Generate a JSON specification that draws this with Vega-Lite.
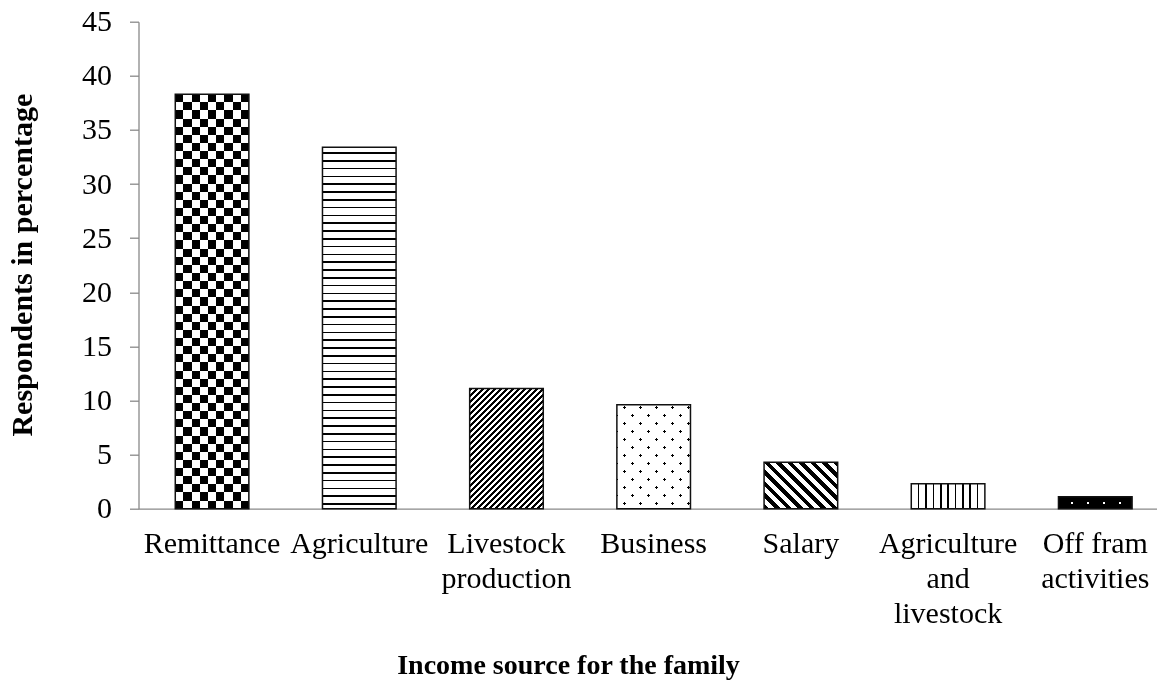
{
  "$schema": "https://vega.github.io/schema/vega-lite/v6.json",
  "autosize": "none",
  "width": 1018.5,
  "height": 487,
  "padding": {"left": 138.5, "top": 21.7, "right": 0, "bottom": 178.3},
  "background": "white",
  "config": {"view": {"stroke": null}},
  "data": {"values": [
    {"cat": "Remittance", "value": 38.3},
    {"cat": "Agriculture", "value": 33.4},
    {"cat": "Livestock production", "value": 11.1},
    {"cat": "Business", "value": 9.6},
    {"cat": "Salary", "value": 4.3},
    {"cat": "Agriculture and livestock", "value": 2.3},
    {"cat": "Off fram activities", "value": 1.1}
  ]},
  "encoding": {
    "x": {"field": "cat", "type": "nominal", "sort": null,
      "scale": {"domain": ["Remittance","Agriculture","Livestock production","Business","Salary","Agriculture and livestock","Off fram activities"], "paddingInner": 0.5, "paddingOuter": 0.2096, "align": 0.596},
      "axis": {"title": "Income source for the family", "titleFont": "Liberation Serif", "titleFontSize": 28, "titleFontWeight": "bold", "titleColor": "#000",
        "titleX": 429.5, "titleY": 156.5, "titleAlign": "center", "titleBaseline": "middle",
        "labelFont": "Liberation Serif", "labelFontSize": 30, "labelColor": "#000", "labelAngle": 0, "labelLimit": 0, "labelPadding": 20, "labelLineHeight": 35, "labelBaseline": "top",
        "ticks": false, "domainColor": "#898989", "domainWidth": 1.3,
        "labelExpr": "datum.label == 'Livestock production' ? ['Livestock','production'] : datum.label == 'Agriculture and livestock' ? ['Agriculture','and','livestock'] : datum.label == 'Off fram activities' ? ['Off fram','activities'] : datum.label"}},
    "y": {"field": "value", "type": "quantitative",
      "scale": {"domain": [0, 45], "nice": false, "zero": true},
      "axis": {"values": [0,5,10,15,20,25,30,35,40,45], "grid": false, "title": "Respondents in percentage",
        "titleFont": "Liberation Serif", "titleFontSize": 30, "titleFontWeight": "bold", "titleColor": "#000",
        "titleX": -116, "titleY": 243, "titleAngle": -90, "titleAlign": "center", "titleBaseline": "middle",
        "labelFont": "Liberation Serif", "labelFontSize": 30, "labelColor": "#000", "labelPadding": 18,
        "tickSize": 9, "tickColor": "#898989", "domainColor": "#898989", "domainWidth": 1.3, "tickWidth": 1.3}}
  },
  "layer": [
    {"transform": [{"filter": "datum.cat === 'Remittance'"}],
     "mark": {"type": "bar", "fill": {"gradient": "linear", "x1": 0, "y1": 0, "x2": 1, "y2": 0, "stops": [
       {"offset":0,"color":"#000"},{"offset":0.1111,"color":"#000"},{"offset":0.1111,"color":"#fff"},{"offset":0.2222,"color":"#fff"},{"offset":0.2222,"color":"#000"},{"offset":0.3333,"color":"#000"},{"offset":0.3333,"color":"#fff"},{"offset":0.4444,"color":"#fff"},{"offset":0.4444,"color":"#000"},{"offset":0.5556,"color":"#000"},{"offset":0.5556,"color":"#fff"},{"offset":0.6667,"color":"#fff"},{"offset":0.6667,"color":"#000"},{"offset":0.7778,"color":"#000"},{"offset":0.7778,"color":"#fff"},{"offset":0.8889,"color":"#fff"},{"offset":0.8889,"color":"#000"},{"offset":1,"color":"#000"}]}}},
    {"transform": [{"filter": "datum.cat === 'Remittance'"}],
     "mark": {"type": "bar", "blend": "difference", "fill": {"gradient": "linear", "x1": 0, "y1": 0, "x2": 0, "y2": 1, "stops": [
       {"offset":0,"color":"#000"},{"offset":0.0196,"color":"#000"},{"offset":0.0196,"color":"#fff"},{"offset":0.0392,"color":"#fff"},{"offset":0.0392,"color":"#000"},{"offset":0.0588,"color":"#000"},{"offset":0.0588,"color":"#fff"},{"offset":0.0784,"color":"#fff"},{"offset":0.0784,"color":"#000"},{"offset":0.0980,"color":"#000"},{"offset":0.0980,"color":"#fff"},{"offset":0.1176,"color":"#fff"},{"offset":0.1176,"color":"#000"},{"offset":0.1373,"color":"#000"},{"offset":0.1373,"color":"#fff"},{"offset":0.1569,"color":"#fff"},{"offset":0.1569,"color":"#000"},{"offset":0.1765,"color":"#000"},{"offset":0.1765,"color":"#fff"},{"offset":0.1961,"color":"#fff"},{"offset":0.1961,"color":"#000"},{"offset":0.2157,"color":"#000"},{"offset":0.2157,"color":"#fff"},{"offset":0.2353,"color":"#fff"},{"offset":0.2353,"color":"#000"},{"offset":0.2549,"color":"#000"},{"offset":0.2549,"color":"#fff"},{"offset":0.2745,"color":"#fff"},{"offset":0.2745,"color":"#000"},{"offset":0.2941,"color":"#000"},{"offset":0.2941,"color":"#fff"},{"offset":0.3137,"color":"#fff"},{"offset":0.3137,"color":"#000"},{"offset":0.3333,"color":"#000"},{"offset":0.3333,"color":"#fff"},{"offset":0.3529,"color":"#fff"},{"offset":0.3529,"color":"#000"},{"offset":0.3725,"color":"#000"},{"offset":0.3725,"color":"#fff"},{"offset":0.3922,"color":"#fff"},{"offset":0.3922,"color":"#000"},{"offset":0.4118,"color":"#000"},{"offset":0.4118,"color":"#fff"},{"offset":0.4314,"color":"#fff"},{"offset":0.4314,"color":"#000"},{"offset":0.4510,"color":"#000"},{"offset":0.4510,"color":"#fff"},{"offset":0.4706,"color":"#fff"},{"offset":0.4706,"color":"#000"},{"offset":0.4902,"color":"#000"},{"offset":0.4902,"color":"#fff"},{"offset":0.5098,"color":"#fff"},{"offset":0.5098,"color":"#000"},{"offset":0.5294,"color":"#000"},{"offset":0.5294,"color":"#fff"},{"offset":0.5490,"color":"#fff"},{"offset":0.5490,"color":"#000"},{"offset":0.5686,"color":"#000"},{"offset":0.5686,"color":"#fff"},{"offset":0.5882,"color":"#fff"},{"offset":0.5882,"color":"#000"},{"offset":0.6078,"color":"#000"},{"offset":0.6078,"color":"#fff"},{"offset":0.6275,"color":"#fff"},{"offset":0.6275,"color":"#000"},{"offset":0.6471,"color":"#000"},{"offset":0.6471,"color":"#fff"},{"offset":0.6667,"color":"#fff"},{"offset":0.6667,"color":"#000"},{"offset":0.6863,"color":"#000"},{"offset":0.6863,"color":"#fff"},{"offset":0.7059,"color":"#fff"},{"offset":0.7059,"color":"#000"},{"offset":0.7255,"color":"#000"},{"offset":0.7255,"color":"#fff"},{"offset":0.7451,"color":"#fff"},{"offset":0.7451,"color":"#000"},{"offset":0.7647,"color":"#000"},{"offset":0.7647,"color":"#fff"},{"offset":0.7843,"color":"#fff"},{"offset":0.7843,"color":"#000"},{"offset":0.8039,"color":"#000"},{"offset":0.8039,"color":"#fff"},{"offset":0.8235,"color":"#fff"},{"offset":0.8235,"color":"#000"},{"offset":0.8431,"color":"#000"},{"offset":0.8431,"color":"#fff"},{"offset":0.8627,"color":"#fff"},{"offset":0.8627,"color":"#000"},{"offset":0.8824,"color":"#000"},{"offset":0.8824,"color":"#fff"},{"offset":0.9020,"color":"#fff"},{"offset":0.9020,"color":"#000"},{"offset":0.9216,"color":"#000"},{"offset":0.9216,"color":"#fff"},{"offset":0.9412,"color":"#fff"},{"offset":0.9412,"color":"#000"},{"offset":0.9608,"color":"#000"},{"offset":0.9608,"color":"#fff"},{"offset":0.9804,"color":"#fff"},{"offset":0.9804,"color":"#000"},{"offset":1,"color":"#000"}]}}},
    {"transform": [{"filter": "datum.cat === 'Agriculture'"}],
     "mark": {"type": "bar", "fill": {"gradient": "linear", "x1": 0, "y1": 0, "x2": 0, "y2": 1, "stops": [
       {"offset":0,"color":"#fff"},
       {"offset":0.0138,"color":"#fff"},{"offset":0.0138,"color":"#000"},{"offset":0.0182,"color":"#000"},{"offset":0.0182,"color":"#fff"},
       {"offset":0.0354,"color":"#fff"},{"offset":0.0354,"color":"#000"},{"offset":0.0398,"color":"#000"},{"offset":0.0398,"color":"#fff"},
       {"offset":0.0570,"color":"#fff"},{"offset":0.0570,"color":"#000"},{"offset":0.0614,"color":"#000"},{"offset":0.0614,"color":"#fff"},
       {"offset":0.0786,"color":"#fff"},{"offset":0.0786,"color":"#000"},{"offset":0.0830,"color":"#000"},{"offset":0.0830,"color":"#fff"},
       {"offset":0.1001,"color":"#fff"},{"offset":0.1001,"color":"#000"},{"offset":0.1045,"color":"#000"},{"offset":0.1045,"color":"#fff"},
       {"offset":0.1217,"color":"#fff"},{"offset":0.1217,"color":"#000"},{"offset":0.1261,"color":"#000"},{"offset":0.1261,"color":"#fff"},
       {"offset":0.1433,"color":"#fff"},{"offset":0.1433,"color":"#000"},{"offset":0.1477,"color":"#000"},{"offset":0.1477,"color":"#fff"},
       {"offset":0.1649,"color":"#fff"},{"offset":0.1649,"color":"#000"},{"offset":0.1693,"color":"#000"},{"offset":0.1693,"color":"#fff"},
       {"offset":0.1864,"color":"#fff"},{"offset":0.1864,"color":"#000"},{"offset":0.1908,"color":"#000"},{"offset":0.1908,"color":"#fff"},
       {"offset":0.2080,"color":"#fff"},{"offset":0.2080,"color":"#000"},{"offset":0.2124,"color":"#000"},{"offset":0.2124,"color":"#fff"},
       {"offset":0.2296,"color":"#fff"},{"offset":0.2296,"color":"#000"},{"offset":0.2340,"color":"#000"},{"offset":0.2340,"color":"#fff"},
       {"offset":0.2512,"color":"#fff"},{"offset":0.2512,"color":"#000"},{"offset":0.2556,"color":"#000"},{"offset":0.2556,"color":"#fff"},
       {"offset":0.2728,"color":"#fff"},{"offset":0.2728,"color":"#000"},{"offset":0.2772,"color":"#000"},{"offset":0.2772,"color":"#fff"},
       {"offset":0.2943,"color":"#fff"},{"offset":0.2943,"color":"#000"},{"offset":0.2987,"color":"#000"},{"offset":0.2987,"color":"#fff"},
       {"offset":0.3159,"color":"#fff"},{"offset":0.3159,"color":"#000"},{"offset":0.3203,"color":"#000"},{"offset":0.3203,"color":"#fff"},
       {"offset":0.3375,"color":"#fff"},{"offset":0.3375,"color":"#000"},{"offset":0.3419,"color":"#000"},{"offset":0.3419,"color":"#fff"},
       {"offset":0.3591,"color":"#fff"},{"offset":0.3591,"color":"#000"},{"offset":0.3635,"color":"#000"},{"offset":0.3635,"color":"#fff"},
       {"offset":0.3806,"color":"#fff"},{"offset":0.3806,"color":"#000"},{"offset":0.3850,"color":"#000"},{"offset":0.3850,"color":"#fff"},
       {"offset":0.4022,"color":"#fff"},{"offset":0.4022,"color":"#000"},{"offset":0.4066,"color":"#000"},{"offset":0.4066,"color":"#fff"},
       {"offset":0.4238,"color":"#fff"},{"offset":0.4238,"color":"#000"},{"offset":0.4282,"color":"#000"},{"offset":0.4282,"color":"#fff"},
       {"offset":0.4454,"color":"#fff"},{"offset":0.4454,"color":"#000"},{"offset":0.4498,"color":"#000"},{"offset":0.4498,"color":"#fff"},
       {"offset":0.4669,"color":"#fff"},{"offset":0.4669,"color":"#000"},{"offset":0.4713,"color":"#000"},{"offset":0.4713,"color":"#fff"},
       {"offset":0.4885,"color":"#fff"},{"offset":0.4885,"color":"#000"},{"offset":0.4929,"color":"#000"},{"offset":0.4929,"color":"#fff"},
       {"offset":0.5101,"color":"#fff"},{"offset":0.5101,"color":"#000"},{"offset":0.5145,"color":"#000"},{"offset":0.5145,"color":"#fff"},
       {"offset":0.5317,"color":"#fff"},{"offset":0.5317,"color":"#000"},{"offset":0.5361,"color":"#000"},{"offset":0.5361,"color":"#fff"},
       {"offset":0.5533,"color":"#fff"},{"offset":0.5533,"color":"#000"},{"offset":0.5577,"color":"#000"},{"offset":0.5577,"color":"#fff"},
       {"offset":0.5748,"color":"#fff"},{"offset":0.5748,"color":"#000"},{"offset":0.5792,"color":"#000"},{"offset":0.5792,"color":"#fff"},
       {"offset":0.5964,"color":"#fff"},{"offset":0.5964,"color":"#000"},{"offset":0.6008,"color":"#000"},{"offset":0.6008,"color":"#fff"},
       {"offset":0.6180,"color":"#fff"},{"offset":0.6180,"color":"#000"},{"offset":0.6224,"color":"#000"},{"offset":0.6224,"color":"#fff"},
       {"offset":0.6396,"color":"#fff"},{"offset":0.6396,"color":"#000"},{"offset":0.6440,"color":"#000"},{"offset":0.6440,"color":"#fff"},
       {"offset":0.6611,"color":"#fff"},{"offset":0.6611,"color":"#000"},{"offset":0.6655,"color":"#000"},{"offset":0.6655,"color":"#fff"},
       {"offset":0.6827,"color":"#fff"},{"offset":0.6827,"color":"#000"},{"offset":0.6871,"color":"#000"},{"offset":0.6871,"color":"#fff"},
       {"offset":0.7043,"color":"#fff"},{"offset":0.7043,"color":"#000"},{"offset":0.7087,"color":"#000"},{"offset":0.7087,"color":"#fff"},
       {"offset":0.7259,"color":"#fff"},{"offset":0.7259,"color":"#000"},{"offset":0.7303,"color":"#000"},{"offset":0.7303,"color":"#fff"},
       {"offset":0.7474,"color":"#fff"},{"offset":0.7474,"color":"#000"},{"offset":0.7518,"color":"#000"},{"offset":0.7518,"color":"#fff"},
       {"offset":0.7690,"color":"#fff"},{"offset":0.7690,"color":"#000"},{"offset":0.7734,"color":"#000"},{"offset":0.7734,"color":"#fff"},
       {"offset":0.7906,"color":"#fff"},{"offset":0.7906,"color":"#000"},{"offset":0.7950,"color":"#000"},{"offset":0.7950,"color":"#fff"},
       {"offset":0.8122,"color":"#fff"},{"offset":0.8122,"color":"#000"},{"offset":0.8166,"color":"#000"},{"offset":0.8166,"color":"#fff"},
       {"offset":0.8338,"color":"#fff"},{"offset":0.8338,"color":"#000"},{"offset":0.8382,"color":"#000"},{"offset":0.8382,"color":"#fff"},
       {"offset":0.8553,"color":"#fff"},{"offset":0.8553,"color":"#000"},{"offset":0.8597,"color":"#000"},{"offset":0.8597,"color":"#fff"},
       {"offset":0.8769,"color":"#fff"},{"offset":0.8769,"color":"#000"},{"offset":0.8813,"color":"#000"},{"offset":0.8813,"color":"#fff"},
       {"offset":0.8985,"color":"#fff"},{"offset":0.8985,"color":"#000"},{"offset":0.9029,"color":"#000"},{"offset":0.9029,"color":"#fff"},
       {"offset":0.9201,"color":"#fff"},{"offset":0.9201,"color":"#000"},{"offset":0.9245,"color":"#000"},{"offset":0.9245,"color":"#fff"},
       {"offset":0.9416,"color":"#fff"},{"offset":0.9416,"color":"#000"},{"offset":0.9460,"color":"#000"},{"offset":0.9460,"color":"#fff"},
       {"offset":0.9632,"color":"#fff"},{"offset":0.9632,"color":"#000"},{"offset":0.9676,"color":"#000"},{"offset":0.9676,"color":"#fff"},
       {"offset":0.9848,"color":"#fff"},{"offset":0.9848,"color":"#000"},{"offset":0.9892,"color":"#000"},{"offset":0.9892,"color":"#fff"},
       {"offset":1,"color":"#fff"}]}}},
    {"transform": [{"filter": "datum.cat === 'Livestock production'"}],
     "mark": {"type": "bar", "fill": {"gradient": "linear", "x1": 0, "y1": 0, "x2": 0.7185, "y2": 1.1725, "stops": [
       {"offset":0,"color":"#000"},{"offset":0.0165,"color":"#000"},{"offset":0.0165,"color":"#fff"},
       {"offset":0.0310,"color":"#fff"},{"offset":0.0310,"color":"#000"},{"offset":0.0475,"color":"#000"},{"offset":0.0475,"color":"#fff"},
       {"offset":0.0620,"color":"#fff"},{"offset":0.0620,"color":"#000"},{"offset":0.0785,"color":"#000"},{"offset":0.0785,"color":"#fff"},
       {"offset":0.0929,"color":"#fff"},{"offset":0.0929,"color":"#000"},{"offset":0.1095,"color":"#000"},{"offset":0.1095,"color":"#fff"},
       {"offset":0.1239,"color":"#fff"},{"offset":0.1239,"color":"#000"},{"offset":0.1404,"color":"#000"},{"offset":0.1404,"color":"#fff"},
       {"offset":0.1549,"color":"#fff"},{"offset":0.1549,"color":"#000"},{"offset":0.1714,"color":"#000"},{"offset":0.1714,"color":"#fff"},
       {"offset":0.1859,"color":"#fff"},{"offset":0.1859,"color":"#000"},{"offset":0.2024,"color":"#000"},{"offset":0.2024,"color":"#fff"},
       {"offset":0.2168,"color":"#fff"},{"offset":0.2168,"color":"#000"},{"offset":0.2334,"color":"#000"},{"offset":0.2334,"color":"#fff"},
       {"offset":0.2478,"color":"#fff"},{"offset":0.2478,"color":"#000"},{"offset":0.2643,"color":"#000"},{"offset":0.2643,"color":"#fff"},
       {"offset":0.2788,"color":"#fff"},{"offset":0.2788,"color":"#000"},{"offset":0.2953,"color":"#000"},{"offset":0.2953,"color":"#fff"},
       {"offset":0.3098,"color":"#fff"},{"offset":0.3098,"color":"#000"},{"offset":0.3263,"color":"#000"},{"offset":0.3263,"color":"#fff"},
       {"offset":0.3407,"color":"#fff"},{"offset":0.3407,"color":"#000"},{"offset":0.3573,"color":"#000"},{"offset":0.3573,"color":"#fff"},
       {"offset":0.3717,"color":"#fff"},{"offset":0.3717,"color":"#000"},{"offset":0.3882,"color":"#000"},{"offset":0.3882,"color":"#fff"},
       {"offset":0.4027,"color":"#fff"},{"offset":0.4027,"color":"#000"},{"offset":0.4192,"color":"#000"},{"offset":0.4192,"color":"#fff"},
       {"offset":0.4337,"color":"#fff"},{"offset":0.4337,"color":"#000"},{"offset":0.4502,"color":"#000"},{"offset":0.4502,"color":"#fff"},
       {"offset":0.4646,"color":"#fff"},{"offset":0.4646,"color":"#000"},{"offset":0.4812,"color":"#000"},{"offset":0.4812,"color":"#fff"},
       {"offset":0.4956,"color":"#fff"},{"offset":0.4956,"color":"#000"},{"offset":0.5121,"color":"#000"},{"offset":0.5121,"color":"#fff"},
       {"offset":0.5266,"color":"#fff"},{"offset":0.5266,"color":"#000"},{"offset":0.5431,"color":"#000"},{"offset":0.5431,"color":"#fff"},
       {"offset":0.5576,"color":"#fff"},{"offset":0.5576,"color":"#000"},{"offset":0.5741,"color":"#000"},{"offset":0.5741,"color":"#fff"},
       {"offset":0.5885,"color":"#fff"},{"offset":0.5885,"color":"#000"},{"offset":0.6051,"color":"#000"},{"offset":0.6051,"color":"#fff"},
       {"offset":0.6195,"color":"#fff"},{"offset":0.6195,"color":"#000"},{"offset":0.6360,"color":"#000"},{"offset":0.6360,"color":"#fff"},
       {"offset":0.6505,"color":"#fff"},{"offset":0.6505,"color":"#000"},{"offset":0.6670,"color":"#000"},{"offset":0.6670,"color":"#fff"},
       {"offset":0.6815,"color":"#fff"},{"offset":0.6815,"color":"#000"},{"offset":0.6980,"color":"#000"},{"offset":0.6980,"color":"#fff"},
       {"offset":0.7124,"color":"#fff"},{"offset":0.7124,"color":"#000"},{"offset":0.7290,"color":"#000"},{"offset":0.7290,"color":"#fff"},
       {"offset":0.7434,"color":"#fff"},{"offset":0.7434,"color":"#000"},{"offset":0.7599,"color":"#000"},{"offset":0.7599,"color":"#fff"},
       {"offset":0.7744,"color":"#fff"},{"offset":0.7744,"color":"#000"},{"offset":0.7909,"color":"#000"},{"offset":0.7909,"color":"#fff"},
       {"offset":0.8054,"color":"#fff"},{"offset":0.8054,"color":"#000"},{"offset":0.8219,"color":"#000"},{"offset":0.8219,"color":"#fff"},
       {"offset":0.8364,"color":"#fff"},{"offset":0.8364,"color":"#000"},{"offset":0.8529,"color":"#000"},{"offset":0.8529,"color":"#fff"},
       {"offset":0.8673,"color":"#fff"},{"offset":0.8673,"color":"#000"},{"offset":0.8838,"color":"#000"},{"offset":0.8838,"color":"#fff"},
       {"offset":0.8983,"color":"#fff"},{"offset":0.8983,"color":"#000"},{"offset":0.9148,"color":"#000"},{"offset":0.9148,"color":"#fff"},
       {"offset":0.9293,"color":"#fff"},{"offset":0.9293,"color":"#000"},{"offset":0.9458,"color":"#000"},{"offset":0.9458,"color":"#fff"},
       {"offset":0.9603,"color":"#fff"},{"offset":0.9603,"color":"#000"},{"offset":0.9768,"color":"#000"},{"offset":0.9768,"color":"#fff"},
       {"offset":1,"color":"#fff"}]}}},
    {"transform": [{"filter": "datum.cat === 'Business'"}],
     "mark": {"type": "bar", "fill": {"gradient": "linear", "x1": 0, "y1": 0, "x2": 0.8058, "y2": 1.1375, "stops": [
       {"offset":0,"color":"#fff"},
       {"offset":0.0518,"color":"#fff"},{"offset":0.0518,"color":"#000"},{"offset":0.0642,"color":"#000"},{"offset":0.0642,"color":"#fff"},
       {"offset":0.1420,"color":"#fff"},{"offset":0.1420,"color":"#000"},{"offset":0.1544,"color":"#000"},{"offset":0.1544,"color":"#fff"},
       {"offset":0.2321,"color":"#fff"},{"offset":0.2321,"color":"#000"},{"offset":0.2445,"color":"#000"},{"offset":0.2445,"color":"#fff"},
       {"offset":0.3223,"color":"#fff"},{"offset":0.3223,"color":"#000"},{"offset":0.3346,"color":"#000"},{"offset":0.3346,"color":"#fff"},
       {"offset":0.4124,"color":"#fff"},{"offset":0.4124,"color":"#000"},{"offset":0.4248,"color":"#000"},{"offset":0.4248,"color":"#fff"},
       {"offset":0.5025,"color":"#fff"},{"offset":0.5025,"color":"#000"},{"offset":0.5149,"color":"#000"},{"offset":0.5149,"color":"#fff"},
       {"offset":0.5927,"color":"#fff"},{"offset":0.5927,"color":"#000"},{"offset":0.6051,"color":"#000"},{"offset":0.6051,"color":"#fff"},
       {"offset":0.6828,"color":"#fff"},{"offset":0.6828,"color":"#000"},{"offset":0.6952,"color":"#000"},{"offset":0.6952,"color":"#fff"},
       {"offset":0.7730,"color":"#fff"},{"offset":0.7730,"color":"#000"},{"offset":0.7854,"color":"#000"},{"offset":0.7854,"color":"#fff"},
       {"offset":0.8631,"color":"#fff"},{"offset":0.8631,"color":"#000"},{"offset":0.8755,"color":"#000"},{"offset":0.8755,"color":"#fff"},
       {"offset":0.9532,"color":"#fff"},{"offset":0.9532,"color":"#000"},{"offset":0.9656,"color":"#000"},{"offset":0.9656,"color":"#fff"},
       {"offset":1,"color":"#fff"}]}}},
    {"transform": [{"filter": "datum.cat === 'Business'"}],
     "mark": {"type": "bar", "blend": "lighten", "fill": {"gradient": "linear", "x1": 0, "y1": 1, "x2": 0.8058, "y2": -0.1375, "stops": [
       {"offset":0,"color":"#fff"},
       {"offset":0.0659,"color":"#fff"},{"offset":0.0659,"color":"#000"},{"offset":0.0783,"color":"#000"},{"offset":0.0783,"color":"#fff"},
       {"offset":0.1561,"color":"#fff"},{"offset":0.1561,"color":"#000"},{"offset":0.1685,"color":"#000"},{"offset":0.1685,"color":"#fff"},
       {"offset":0.2462,"color":"#fff"},{"offset":0.2462,"color":"#000"},{"offset":0.2586,"color":"#000"},{"offset":0.2586,"color":"#fff"},
       {"offset":0.3363,"color":"#fff"},{"offset":0.3363,"color":"#000"},{"offset":0.3487,"color":"#000"},{"offset":0.3487,"color":"#fff"},
       {"offset":0.4265,"color":"#fff"},{"offset":0.4265,"color":"#000"},{"offset":0.4389,"color":"#000"},{"offset":0.4389,"color":"#fff"},
       {"offset":0.5166,"color":"#fff"},{"offset":0.5166,"color":"#000"},{"offset":0.5290,"color":"#000"},{"offset":0.5290,"color":"#fff"},
       {"offset":0.6068,"color":"#fff"},{"offset":0.6068,"color":"#000"},{"offset":0.6192,"color":"#000"},{"offset":0.6192,"color":"#fff"},
       {"offset":0.6969,"color":"#fff"},{"offset":0.6969,"color":"#000"},{"offset":0.7093,"color":"#000"},{"offset":0.7093,"color":"#fff"},
       {"offset":0.7870,"color":"#fff"},{"offset":0.7870,"color":"#000"},{"offset":0.7994,"color":"#000"},{"offset":0.7994,"color":"#fff"},
       {"offset":0.8772,"color":"#fff"},{"offset":0.8772,"color":"#000"},{"offset":0.8896,"color":"#000"},{"offset":0.8896,"color":"#fff"},
       {"offset":0.9673,"color":"#fff"},{"offset":0.9673,"color":"#000"},{"offset":0.9797,"color":"#000"},{"offset":0.9797,"color":"#fff"},
       {"offset":1,"color":"#fff"}]}}},
    {"transform": [{"filter": "datum.cat === 'Salary'"}],
     "mark": {"type": "bar", "fill": {"gradient": "linear", "x1": 0, "y1": 1, "x2": 1.1663, "y2": 0.2631, "stops": [
       {"offset":0,"color":"#000"},{"offset":0.0458,"color":"#000"},{"offset":0.0458,"color":"#fff"},
       {"offset":0.0958,"color":"#fff"},{"offset":0.0958,"color":"#000"},{"offset":0.1416,"color":"#000"},{"offset":0.1416,"color":"#fff"},
       {"offset":0.1915,"color":"#fff"},{"offset":0.1915,"color":"#000"},{"offset":0.2373,"color":"#000"},{"offset":0.2373,"color":"#fff"},
       {"offset":0.2873,"color":"#fff"},{"offset":0.2873,"color":"#000"},{"offset":0.3331,"color":"#000"},{"offset":0.3331,"color":"#fff"},
       {"offset":0.3830,"color":"#fff"},{"offset":0.3830,"color":"#000"},{"offset":0.4288,"color":"#000"},{"offset":0.4288,"color":"#fff"},
       {"offset":0.4788,"color":"#fff"},{"offset":0.4788,"color":"#000"},{"offset":0.5246,"color":"#000"},{"offset":0.5246,"color":"#fff"},
       {"offset":0.5745,"color":"#fff"},{"offset":0.5745,"color":"#000"},{"offset":0.6203,"color":"#000"},{"offset":0.6203,"color":"#fff"},
       {"offset":0.6703,"color":"#fff"},{"offset":0.6703,"color":"#000"},{"offset":0.7161,"color":"#000"},{"offset":0.7161,"color":"#fff"},
       {"offset":0.7660,"color":"#fff"},{"offset":0.7660,"color":"#000"},{"offset":0.8118,"color":"#000"},{"offset":0.8118,"color":"#fff"},
       {"offset":0.8618,"color":"#fff"},{"offset":0.8618,"color":"#000"},{"offset":0.9076,"color":"#000"},{"offset":0.9076,"color":"#fff"},
       {"offset":0.9575,"color":"#fff"},{"offset":0.9575,"color":"#000"},{"offset":1,"color":"#000"}]}}},
    {"transform": [{"filter": "datum.cat === 'Agriculture and livestock'"}],
     "mark": {"type": "bar", "fill": {"gradient": "linear", "x1": 0, "y1": 0, "x2": 1, "y2": 0, "stops": [
       {"offset":0,"color":"#fff"},
       {"offset":0.089,"color":"#fff"},{"offset":0.089,"color":"#000"},{"offset":0.111,"color":"#000"},{"offset":0.111,"color":"#fff"},
       {"offset":0.189,"color":"#fff"},{"offset":0.189,"color":"#000"},{"offset":0.211,"color":"#000"},{"offset":0.211,"color":"#fff"},
       {"offset":0.289,"color":"#fff"},{"offset":0.289,"color":"#000"},{"offset":0.311,"color":"#000"},{"offset":0.311,"color":"#fff"},
       {"offset":0.389,"color":"#fff"},{"offset":0.389,"color":"#000"},{"offset":0.411,"color":"#000"},{"offset":0.411,"color":"#fff"},
       {"offset":0.489,"color":"#fff"},{"offset":0.489,"color":"#000"},{"offset":0.511,"color":"#000"},{"offset":0.511,"color":"#fff"},
       {"offset":0.589,"color":"#fff"},{"offset":0.589,"color":"#000"},{"offset":0.611,"color":"#000"},{"offset":0.611,"color":"#fff"},
       {"offset":0.689,"color":"#fff"},{"offset":0.689,"color":"#000"},{"offset":0.711,"color":"#000"},{"offset":0.711,"color":"#fff"},
       {"offset":0.789,"color":"#fff"},{"offset":0.789,"color":"#000"},{"offset":0.811,"color":"#000"},{"offset":0.811,"color":"#fff"},
       {"offset":0.889,"color":"#fff"},{"offset":0.889,"color":"#000"},{"offset":0.911,"color":"#000"},{"offset":0.911,"color":"#fff"},
       {"offset":1,"color":"#fff"}]}}},
    {"transform": [{"filter": "datum.cat === 'Off fram activities'"}],
     "mark": {"type": "bar", "fill": {"gradient": "linear", "x1": 0, "y1": 0, "x2": 1, "y2": 0, "stops": [
       {"offset":0,"color":"#000"},
       {"offset":0.1726,"color":"#000"},{"offset":0.1726,"color":"#fff"},{"offset":0.1997,"color":"#fff"},{"offset":0.1997,"color":"#000"},
       {"offset":0.3899,"color":"#000"},{"offset":0.3899,"color":"#fff"},{"offset":0.4171,"color":"#fff"},{"offset":0.4171,"color":"#000"},
       {"offset":0.6114,"color":"#000"},{"offset":0.6114,"color":"#fff"},{"offset":0.6386,"color":"#fff"},{"offset":0.6386,"color":"#000"},
       {"offset":0.8288,"color":"#000"},{"offset":0.8288,"color":"#fff"},{"offset":0.8560,"color":"#fff"},{"offset":0.8560,"color":"#000"},
       {"offset":1,"color":"#000"}]}}},
    {"transform": [{"filter": "datum.cat === 'Off fram activities'"}],
     "mark": {"type": "bar", "blend": "darken", "fill": {"gradient": "linear", "x1": 0, "y1": 0, "x2": 0, "y2": 1, "stops": [
       {"offset":0,"color":"#000"},{"offset":0.42,"color":"#000"},{"offset":0.42,"color":"#fff"},{"offset":0.58,"color":"#fff"},{"offset":0.58,"color":"#000"},{"offset":1,"color":"#000"}]}}},
    {"mark": {"type": "bar", "fillOpacity": 0, "fill": "#fff", "stroke": "#111", "strokeWidth": 1.5}}
  ]
}
